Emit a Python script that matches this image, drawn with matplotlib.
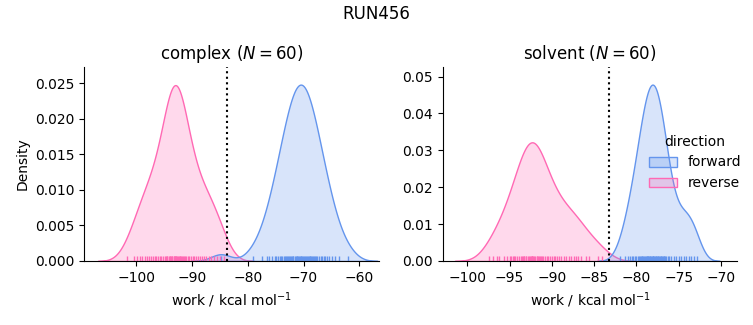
import pandas as pd
import matplotlib
matplotlib.use('Agg')
import matplotlib.pyplot as plt
import seaborn as sns

# work values (kcal/mol)
complex_forward = [
    -84.8,
    -79.0, -77.4, -76.6, -76.1, -75.6, -75.2, -74.9, -74.6, -74.3, -74.1,
    -73.8, -73.5, -73.3, -73.1, -72.9, -72.7, -72.6, -72.4, -72.2, -72.1,
    -71.9, -71.8, -71.5, -71.4, -71.2, -71.1, -70.9, -70.8, -70.6, -70.5,
    -70.4, -70.2, -70.1, -69.9, -69.8, -69.55, -69.45, -69.24, -69.1, -68.9,
    -68.8, -68.6, -68.4, -68.3, -68.1, -67.9, -67.7, -67.5, -67.2, -66.9,
    -66.7, -66.4, -66.1, -65.8, -65.4, -64.9, -64.4, -63.6, -62.0,
]
complex_reverse = [
    -101.6, -100.4, -99.8, -99.3, -98.9, -98.5, -98.1, -97.7, -97.4, -97.0,
    -96.7, -96.4, -96.1, -95.8, -95.5, -95.2,
    -94.9, -94.7, -94.5, -94.4, -94.2, -94.0, -93.9, -93.7, -93.6, -93.5,
    -93.3, -93.2, -93.1, -93.0, -92.9, -92.8, -92.6, -92.5, -92.4, -92.2,
    -92.1, -91.9, -91.8, -91.6, -91.4, -91.2, -91.0, -90.8,
    -90.5, -90.2, -89.9, -89.6, -89.3, -89.0, -88.6, -88.2, -87.8, -87.4,
    -87.0, -86.6, -86.1, -85.6, -85.0, -84.2,
]
solvent_forward = [
    -81.9, -81.3, -81.0,
    -80.8, -80.5, -80.2, -80.0, -79.8, -79.7, -79.5, -79.4, -79.3, -79.2,
    -79.1, -79.0, -78.9, -78.8, -78.7, -78.6, -78.5, -78.45, -78.4, -76.6,
    -78.3, -77.05, -78.2, -78.1, -78.0, -77.9, -77.8, -77.7, -77.6, -77.5,
    -77.4, -77.3, -77.2, -77.0, -76.9, -76.7, -76.5, -76.3, -76.1, -75.9,
    -79.6, -78.6, -78.0, -77.1, -76.8, -80.4, -77.75,
    -75.6, -75.3, -75.0, -74.7, -74.4, -74.1, -73.8, -73.5, -73.2, -72.9,
]
solvent_reverse = [
    -97.4, -96.9, -96.5, -96.2,
    -93.25, -95.6, -95.3, -95.0, -94.8, -94.5, -94.3, -94.1, -93.9, -93.7,
    -93.5, -93.3, -93.1, -93.0, -92.8, -92.7, -92.5, -92.4, -92.3, -92.1,
    -92.0, -91.8, -91.7, -91.5, -91.3, -91.2, -91.0, -90.8, -90.6, -90.4,
    -90.2, -90.0, -89.8, -89.6, -89.4, -89.2,
    -94.6, -93.4, -92.6, -92.2, -91.6,
    -88.9, -88.6, -88.3, -88.0, -87.7, -87.4, -87.2, -86.9, -86.6, -92.35,
    -86.0, -85.6, -91.4, -84.6, -84.1,
]
# dotted reference line per phase
free_energy = {'complex': -83.8, 'solvent': -83.3}
x_limits = {'complex': (-109.3, -56.5), 'solvent': (-102.9, -68.1)}

phases = ['complex', 'solvent']
palette = {'forward': 'cornflowerblue', 'reverse': 'hotpink'}

rows = []
for phase, fwd, rev in [('complex', complex_forward, complex_reverse),
                        ('solvent', solvent_forward, solvent_reverse)]:
    rows += [{'phase': phase, 'direction': 'forward', 'work': w} for w in fwd]
    rows += [{'phase': phase, 'direction': 'reverse', 'work': w} for w in rev]
df = pd.DataFrame(rows)

g = sns.displot(data=df, x='work', hue='direction', col='phase', col_order=phases,
                kind='kde', fill=True, rug=True, palette=palette,
                facet_kws=dict(sharex=False, sharey=False))

for ax, phase in zip(g.axes.flat, phases):
    n = len(df[(df.phase == phase) & (df.direction == 'forward')])
    ax.axvline(free_energy[phase], color='k', ls=':', lw=1.5)
    ax.set_xlim(*x_limits[phase])
    ax.set_title(f'{phase} ($N = {n}$)', fontsize=12)
    ax.set_xlabel('work / kcal mol$^{-1}$')
g.axes.flat[0].set_ylabel('Density')

g.figure.set_size_inches(7.53, 3.25)
g.figure.subplots_adjust(left=0.112, right=0.979, bottom=0.197, top=0.794, wspace=0.217)
g.figure.suptitle('RUN456', fontsize=12, y=0.985)
sns.move_legend(g, 'center left', bbox_to_anchor=(0.845, 0.5), frameon=False)

g.figure.savefig('out.png', dpi=100)
